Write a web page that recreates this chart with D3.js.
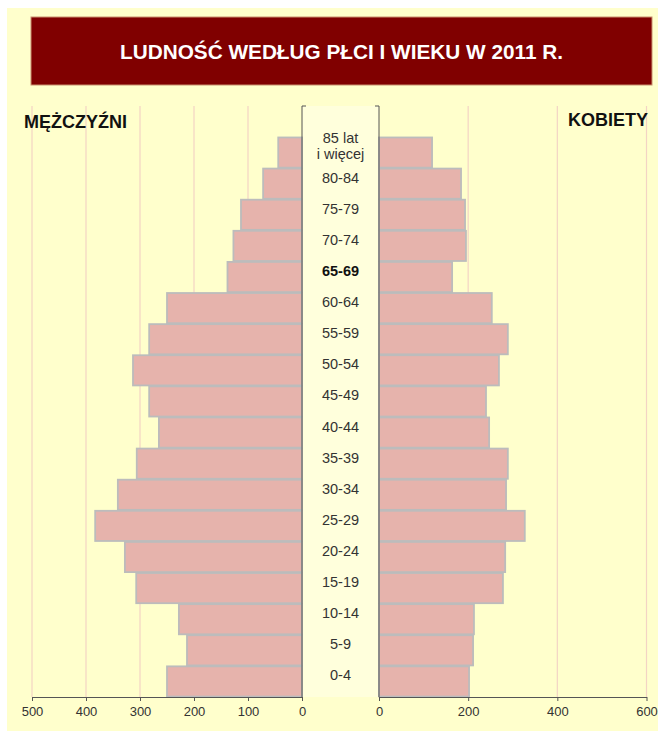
<!DOCTYPE html>
<html>
<head>
<meta charset="utf-8">
<script src="https://cdn.jsdelivr.net/npm/d3@7/dist/d3.min.js"></script>
<style>
  html, body { margin: 0; padding: 0; background: #ffffff; }
  svg { display: block; font-family: "Liberation Sans", Arial, sans-serif; }
</style>
</head>
<body>
<svg id="chart" width="658" height="731"></svg>
<script>
const title = "LUDNOŚĆ WEDŁUG PŁCI I WIEKU W 2011 R.";
const leftHeader = "MĘŻCZYŹNI";
const rightHeader = "KOBIETY";
const categories = ["85 lat|i więcej","80-84","75-79","70-74","65-69","60-64","55-59","50-54","45-49","40-44","35-39","30-34","25-29","20-24","15-19","10-14","5-9","0-4"];
const men   = [44, 72, 113, 127, 138, 250, 283, 313, 283, 265, 306, 341, 383, 328, 307, 228, 213, 250];
const women = [119, 184, 193, 195, 164, 253, 289, 269, 240, 247, 289, 285, 327, 283, 278, 213, 211, 202];
const leftTicks = [500, 400, 300, 200, 100, 0];
const rightTicks = [0, 200, 400, 600];
const boldCategory = "65-69";

const svg = d3.select("#chart");

// backgrounds
svg.append("rect").attr("x", 7).attr("y", 8).attr("width", 651).attr("height", 723).attr("fill", "#ffffcc");
svg.append("rect").attr("x", 31).attr("y", 17).attr("width", 621).attr("height", 68)
  .attr("fill", "#800000").attr("stroke", "#c9906e").attr("stroke-width", 1);
svg.append("text").attr("x", 341.5).attr("y", 58.5).attr("text-anchor", "middle")
  .attr("fill", "#ffffff").attr("font-weight", "bold").attr("font-size", 20)
  .attr("textLength", 443).attr("lengthAdjust", "spacingAndGlyphs").text(title);

const yTop = 137, yBot = 697, gridTop = 106;
const xL = d3.scaleLinear().domain([0, 500]).range([302, 32]);
const xR = d3.scaleLinear().domain([0, 600]).range([379, 646.5]);
const y = d3.scaleBand().domain(categories).range([yTop, yBot]).paddingInner(0.03).paddingOuter(0.015);

// label column
svg.append("rect").attr("x", xL(0)).attr("y", gridTop).attr("width", xR(0) - xL(0)).attr("height", yBot - gridTop)
  .attr("fill", "#ffffdc");

// gridlines
svg.append("g").selectAll("line").data(leftTicks.filter(d => d > 0)).join("line")
  .attr("x1", d => xL(d)).attr("x2", d => xL(d)).attr("y1", gridTop).attr("y2", yBot)
  .attr("stroke", "#f3d4c4").attr("stroke-width", 1.2);
svg.append("g").selectAll("line").data(rightTicks.filter(d => d > 0)).join("line")
  .attr("x1", d => xR(d)).attr("x2", d => xR(d)).attr("y1", gridTop).attr("y2", yBot)
  .attr("stroke", "#f3d4c4").attr("stroke-width", 1.2);

// bars
const barFill = "#e6b3ac", barStroke = "#bcbcbc";
svg.append("g").selectAll("rect").data(categories).join("rect")
  .attr("x", (d, i) => xL(men[i]))
  .attr("y", d => y(d))
  .attr("width", (d, i) => xL(0) - xL(men[i]))
  .attr("height", y.bandwidth())
  .attr("fill", barFill).attr("stroke", barStroke).attr("stroke-width", 1.8);
svg.append("g").selectAll("rect").data(categories).join("rect")
  .attr("x", xR(0))
  .attr("y", d => y(d))
  .attr("width", (d, i) => xR(women[i]) - xR(0))
  .attr("height", y.bandwidth())
  .attr("fill", barFill).attr("stroke", barStroke).attr("stroke-width", 1.8);

// vertical axis lines with top ticks
const axisColor = "#555555";
[[xL(0), 4], [xR(0), -4]].forEach(([x, dx]) => {
  svg.append("line").attr("x1", x).attr("x2", x).attr("y1", gridTop).attr("y2", yBot)
    .attr("stroke", axisColor).attr("stroke-width", 1);
  svg.append("line").attr("x1", x).attr("x2", x + dx).attr("y1", gridTop).attr("y2", gridTop)
    .attr("stroke", axisColor).attr("stroke-width", 1);
});

// bottom axes
function styleAxis(g) {
  g.select(".domain").attr("stroke", axisColor);
  g.selectAll(".tick line").attr("stroke", axisColor);
  g.selectAll(".tick text").attr("fill", "#333").attr("font-size", 13)
    .attr("font-family", "Liberation Sans, Arial, sans-serif");
}
svg.append("g").attr("transform", `translate(0,${yBot})`)
  .call(d3.axisBottom(xL).tickValues(leftTicks).tickSize(4).tickSizeOuter(0).tickPadding(6).tickFormat(d3.format("d")))
  .call(styleAxis);
svg.append("g").attr("transform", `translate(0,${yBot})`)
  .call(d3.axisBottom(xR).tickValues(rightTicks).tickSize(4).tickSizeOuter(0).tickPadding(6).tickFormat(d3.format("d")))
  .call(styleAxis);

// category labels
const cx = (xL(0) + xR(0)) / 2;
const lab = svg.append("g").selectAll("text").data(categories).join("text")
  .attr("x", cx).attr("text-anchor", "middle").attr("font-size", 14.5)
  .attr("fill", d => d === boldCategory ? "#111" : "#333")
  .attr("font-weight", d => d === boldCategory ? "bold" : "normal")
  .attr("y", d => y(d) + y.bandwidth() / 2 - 1);
lab.each(function(d) {
  const parts = d.split("|");
  const t = d3.select(this);
  if (parts.length === 1) { t.text(d); }
  else {
    t.attr("y", y(d) + 6);
    parts.forEach((p, i) => t.append("tspan").attr("x", cx).attr("dy", i === 0 ? 0 : 16).text(p));
  }
});

// headers
svg.append("text").attr("x", 24).attr("y", 128).attr("font-size", 18).attr("font-weight", "bold")
  .attr("fill", "#111").text(leftHeader);
svg.append("text").attr("x", 648).attr("y", 126).attr("text-anchor", "end").attr("font-size", 18).attr("font-weight", "bold")
  .attr("fill", "#111").text(rightHeader);
</script>
</body>
</html>
